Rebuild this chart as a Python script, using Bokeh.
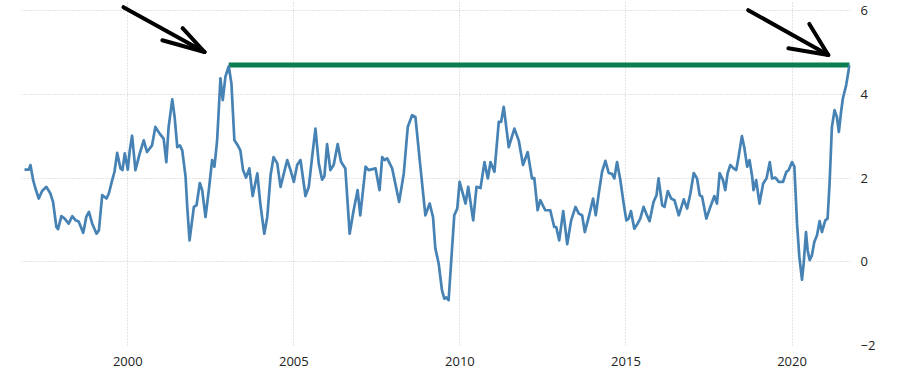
from bokeh.plotting import figure
from bokeh.models import FixedTicker, Range1d
from bokeh.embed import file_html
from bokeh.resources import INLINE

# ---- data (decimal year, value) ----
years = [
    1996.89, 1997.02, 1997.07, 1997.15, 1997.22, 1997.32, 1997.42, 1997.55, 1997.67, 1997.75,
    1997.85, 1997.90, 1998.00, 1998.10, 1998.22, 1998.33, 1998.43, 1998.52, 1998.66, 1998.75,
    1998.83, 1998.93, 1999.06, 1999.13, 1999.23, 1999.36, 1999.43, 1999.53, 1999.60, 1999.68,
    1999.78, 1999.84, 1999.91, 2000.00, 2000.06, 2000.13, 2000.23, 2000.36, 2000.48, 2000.58,
    2000.73, 2000.83, 2000.96, 2001.08, 2001.16, 2001.23, 2001.34, 2001.41, 2001.49, 2001.57,
    2001.64, 2001.74, 2001.79, 2001.86, 2001.99, 2002.07, 2002.17, 2002.24, 2002.34, 2002.44,
    2002.54, 2002.61, 2002.69, 2002.79, 2002.86, 2002.94, 2003.04, 2003.12, 2003.21, 2003.31,
    2003.39, 2003.47, 2003.56, 2003.66, 2003.76, 2003.90, 2003.99, 2004.11, 2004.20, 2004.30,
    2004.39, 2004.50, 2004.60, 2004.70, 2004.80, 2004.90, 2005.00, 2005.10, 2005.20, 2005.35,
    2005.45, 2005.55, 2005.65, 2005.75, 2005.85, 2005.92, 2006.00, 2006.10, 2006.20, 2006.32,
    2006.42, 2006.55, 2006.68, 2006.80, 2006.92, 2007.00, 2007.16, 2007.25, 2007.46, 2007.58,
    2007.66, 2007.73, 2007.81, 2007.96, 2008.17, 2008.31, 2008.43, 2008.56, 2008.66, 2008.81,
    2008.96, 2009.09, 2009.19, 2009.26, 2009.36, 2009.46, 2009.53, 2009.59, 2009.66, 2009.74,
    2009.83, 2009.92, 2009.99, 2010.17, 2010.25, 2010.40, 2010.50, 2010.62, 2010.74, 2010.84,
    2010.92, 2011.04, 2011.17, 2011.24, 2011.32, 2011.47, 2011.64, 2011.77, 2011.90, 2012.04,
    2012.17, 2012.24, 2012.34, 2012.42, 2012.57, 2012.72, 2012.84, 2012.90, 2012.99, 2013.11,
    2013.23, 2013.35, 2013.48, 2013.58, 2013.68, 2013.76, 2013.88, 2014.01, 2014.09, 2014.18,
    2014.28, 2014.38, 2014.48, 2014.58, 2014.65, 2014.73, 2014.83, 2014.93, 2015.01, 2015.08,
    2015.15, 2015.25, 2015.35, 2015.43, 2015.53, 2015.61, 2015.71, 2015.83, 2015.92, 2015.98,
    2016.09, 2016.16, 2016.26, 2016.36, 2016.46, 2016.59, 2016.74, 2016.84, 2016.94, 2017.04,
    2017.14, 2017.22, 2017.29, 2017.42, 2017.54, 2017.66, 2017.74, 2017.82, 2017.92, 2017.99,
    2018.06, 2018.14, 2018.24, 2018.32, 2018.39, 2018.49, 2018.56, 2018.65, 2018.72, 2018.80,
    2018.84, 2018.92, 2019.02, 2019.13, 2019.23, 2019.33, 2019.40, 2019.50, 2019.60, 2019.73,
    2019.83, 2019.90, 2020.00, 2020.07, 2020.15, 2020.22, 2020.30, 2020.35, 2020.42, 2020.47,
    2020.53, 2020.60, 2020.67, 2020.75, 2020.83, 2020.90, 2021.00, 2021.07, 2021.13, 2021.20,
    2021.28, 2021.35, 2021.41, 2021.47, 2021.53, 2021.63, 2021.73,
]
values = [
    2.20, 2.20, 2.31, 1.95, 1.75, 1.51, 1.69, 1.79, 1.63, 1.43,
    0.83, 0.78, 1.09, 1.03, 0.91, 1.09, 0.99, 0.96, 0.69, 1.07,
    1.19, 0.91, 0.67, 0.75, 1.59, 1.51, 1.63, 1.95, 2.15, 2.60,
    2.23, 2.19, 2.59, 2.20, 2.66, 3.01, 2.19, 2.59, 2.90, 2.62,
    2.78, 3.22, 3.06, 2.94, 2.38, 3.22, 3.88, 3.46, 2.74, 2.78,
    2.66, 2.03, 1.31, 0.51, 1.31, 1.35, 1.88, 1.71, 1.07, 1.71,
    2.43, 2.27, 2.90, 4.38, 3.86, 4.42, 4.67, 4.26, 2.90, 2.78,
    2.66, 2.19, 2.01, 2.23, 1.57, 2.11, 1.39, 0.67, 1.07, 2.07,
    2.50, 2.35, 1.79, 2.11, 2.43, 2.19, 1.91, 2.31, 2.43, 1.57,
    1.79, 2.50, 3.18, 2.35, 1.96, 2.04, 2.81, 2.19, 2.31, 2.81,
    2.39, 2.23, 0.67, 1.23, 1.71, 1.11, 2.27, 2.19, 2.23, 1.71,
    2.50, 2.43, 2.47, 2.23, 1.43, 2.11, 3.22, 3.50, 3.46, 2.27,
    1.11, 1.39, 1.07, 0.32, -0.04, -0.68, -0.88, -0.85, -0.92, 0.04,
    1.11, 1.27, 1.91, 1.39, 1.79, 0.99, 1.79, 1.76, 2.38, 1.99,
    2.38, 2.15, 3.34, 3.34, 3.70, 2.74, 3.18, 2.90, 2.31, 2.62,
    1.99, 2.00, 1.23, 1.47, 1.23, 1.23, 0.83, 0.83, 0.51, 1.21,
    0.42, 0.99, 1.31, 1.15, 1.11, 0.71, 1.07, 1.51, 1.11, 1.63,
    2.15, 2.41, 2.12, 2.10, 1.99, 2.38, 1.95, 1.39, 0.99, 1.03,
    1.21, 0.79, 0.91, 1.03, 1.31, 1.15, 0.97, 1.43, 1.59, 1.99,
    1.35, 1.31, 1.69, 1.51, 1.47, 1.11, 1.49, 1.27, 1.63, 2.12,
    1.99, 1.59, 1.56, 1.03, 1.31, 1.57, 1.39, 2.12, 1.95, 1.71,
    2.11, 2.31, 2.23, 2.19, 2.50, 3.00, 2.74, 2.27, 2.43, 2.03,
    1.71, 1.95, 1.39, 1.87, 1.99, 2.38, 1.99, 2.01, 1.91, 1.91,
    2.15, 2.19, 2.38, 2.27, 0.91, 0.11, -0.43, -0.04, 0.71, 0.27,
    0.04, 0.16, 0.47, 0.63, 0.97, 0.71, 0.99, 1.03, 1.87, 3.22,
    3.62, 3.46, 3.10, 3.54, 3.90, 4.22, 4.70,
]

# horizontal "high" level line
level_x = [2003.04, 2021.73]
level_y = [4.70, 4.70]

# hand-drawn arrows (annotation strokes): x0, y0, x1, y1
arrow_x0 = [1999.87, 2001.65, 2001.04, 2018.68, 2020.52, 2019.89]
arrow_y0 = [6.08, 5.58, 5.29, 6.01, 5.68, 5.10]
arrow_x1 = [2002.31, 2002.31, 2002.31, 2021.09, 2021.09, 2021.09]
arrow_y1 = [5.01, 5.01, 5.01, 4.94, 4.94, 4.94]

x_ticks = [2000, 2005, 2010, 2015, 2020]
y_ticks = [-2, 0, 2, 4, 6]

p = figure(width=880, height=370, output_backend="svg", toolbar_location=None,
           x_range=Range1d(1996.80, 2021.76), y_range=Range1d(-2.0, 6.24),
           y_axis_location="right",
           min_border_left=21, min_border_right=30, min_border_top=0, min_border_bottom=25)
p.outline_line_color = None
p.background_fill_color = "white"
p.border_fill_color = "white"

for ax in (p.xaxis[0], p.yaxis[0]):
    ax.axis_line_color = None
    ax.major_tick_line_color = None
    ax.minor_tick_line_color = None
    ax.major_label_text_font = "Open Sans"
    ax.major_label_text_font_size = "13px"
    ax.major_label_text_color = "#222222"
p.xaxis.ticker = FixedTicker(ticks=x_ticks)
p.yaxis.ticker = FixedTicker(ticks=y_ticks)
p.xaxis.major_label_standoff = 5
p.yaxis.major_label_standoff = 4

p.xgrid.ticker = FixedTicker(ticks=x_ticks)
p.ygrid.ticker = FixedTicker(ticks=y_ticks)
for g in (p.xgrid[0], p.ygrid[0]):
    g.grid_line_color = "#c8c8c8"
    g.grid_line_dash = "1 2"
    g.grid_line_width = 1

p.line(level_x, level_y, line_color="#0b7d4e", line_width=5)
p.line(years, values, line_color="#4682b4", line_width=2.7, line_join="round")
p.segment(x0=arrow_x0, y0=arrow_y0, x1=arrow_x1, y1=arrow_y1,
          line_color="black", line_width=4, line_cap="round")

open("out.html", "w").write(file_html(p, INLINE))
